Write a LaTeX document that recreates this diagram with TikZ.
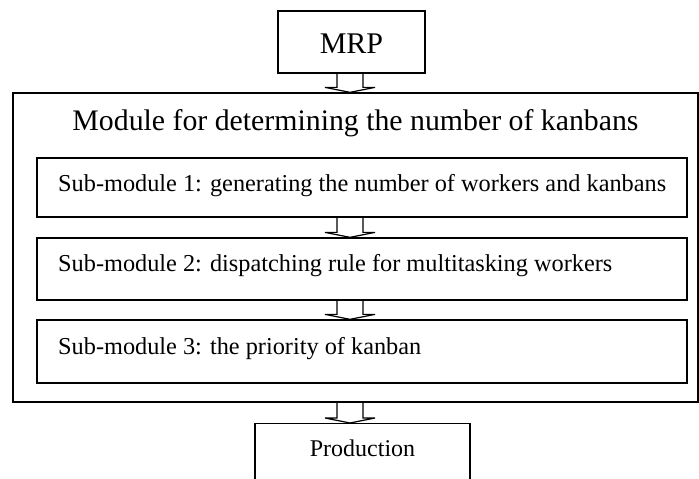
\documentclass[tikz,border=0pt]{standalone}
\usepackage{fontspec}
\setmainfont{Liberation Serif}
\usetikzlibrary{calc}
% hollow block arrow from the bottom of node #1 to the top of node #2, on the vertical line through coordinate ax
\newcommand{\hollowarrow}[2]{%
  \draw[hollow] ($(#1.south -| ax)+(-13,0)$) -- ($(#2.north -| ax)+(-13,-5)$) -- ++(-12,0)
     -- (#2.north -| ax) -- ($(#2.north -| ax)+(25,-5)$) -- ++(-12,0) -- ($(#1.south -| ax)+(13,0)$);}
\begin{document}
\begin{tikzpicture}[x=1pt,y=-1pt,
  box/.style={draw=black,line width=1.3pt,inner sep=0pt},
  hollow/.style={draw=black,line width=1.2pt,line join=miter},
  subtext/.style={anchor=west,inner sep=0pt,font=\fontsize{24.3}{28}\selectfont}]
\useasboundingbox (0,0) rectangle (699,479);
\clip (0,0) rectangle (699,479);
% nodes
\node[box,minimum width=147,minimum height=62] (mrp) at (351.5,42) {};
\node[inner sep=0pt,font=\fontsize{30}{34}\selectfont] (mrpt) at (351.5,44) {MRP};
\node[box,minimum width=685,minimum height=309] (outer) at (355.5,247.5) {};
\node[inner sep=0pt,font=\fontsize{29.8}{34}\selectfont] (title) at (355.5,123) {Module for determining the number of kanbans};
\node[box,minimum width=650,minimum height=59] (s1) at (362,187.5) {};
\node[box,minimum width=650,minimum height=62] (s2) at (362,269) {};
\node[box,minimum width=650,minimum height=63] (s3) at (362,351.5) {};
\node[subtext] (t1) at (58,186) {Sub-module 1: generating the number of workers and kanbans};
\node[subtext] (t2) at (58,266) {Sub-module 2: dispatching rule for multitasking workers};
\node[subtext] (t3) at (58,349) {Sub-module 3: the priority of kanban};
\node[box,minimum width=215,minimum height=100,anchor=north] (prod) at (362.5,423) {};
\node[inner sep=0pt,font=\fontsize{24}{28}\selectfont] (prodt) at (362.5,448) {Production};
% arrows are centred on x = 350
\coordinate (ax) at (350,0);
\hollowarrow{mrp}{outer}
\hollowarrow{s1}{s2}
\hollowarrow{s2}{s3}
\hollowarrow{outer}{prod}
\end{tikzpicture}
\end{document}
